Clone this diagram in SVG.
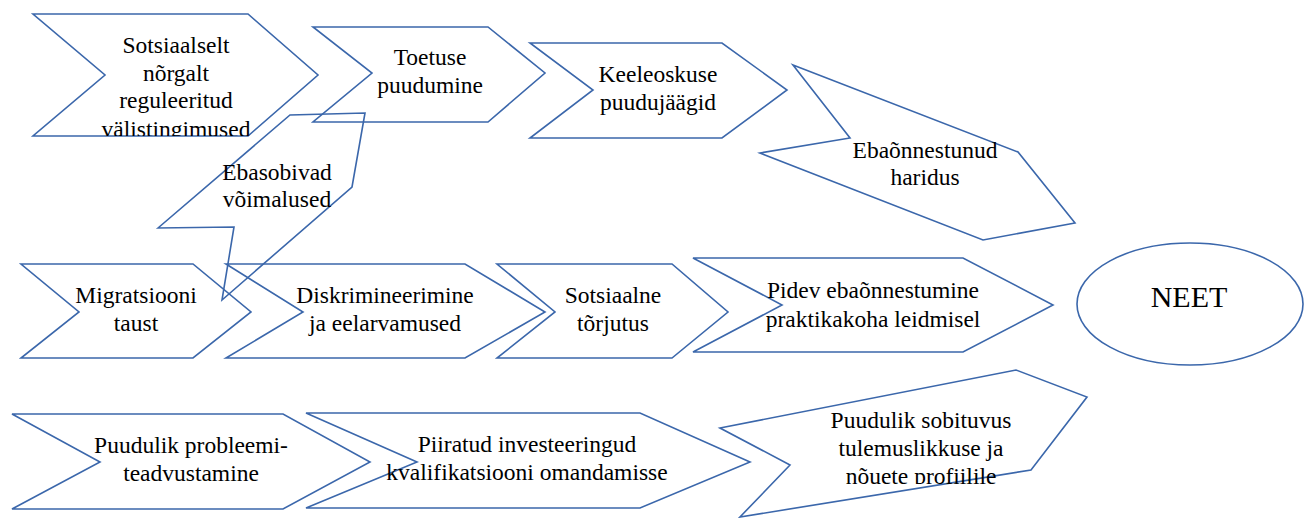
<svg xmlns="http://www.w3.org/2000/svg" width="1312" height="518" viewBox="0 0 1312 518">
<style>
.s{fill:none;stroke:#3b67ab;stroke-width:1.6;stroke-linejoin:miter}
.t{font-family:"Liberation Serif","Times New Roman",serif;font-size:23.5px;fill:#000;text-anchor:middle}
.big{font-size:30px}
</style>
<defs>
<clipPath id="c1"><rect x="0" y="0" width="320" height="136"/></clipPath>
<clipPath id="c13"><rect x="700" y="380" width="400" height="104"/></clipPath>
</defs>
<rect width="1312" height="518" fill="#fff"/>
<g id="connectors"></g>
<g id="n1">
<polygon class="s" points="33,14 248,14 318,75 248,136 33,136 105,75"/>
<g clip-path="url(#c1)">
<text class="t" x="176" y="53">Sotsiaalselt</text>
<text class="t" x="176" y="81">nõrgalt</text>
<text class="t" x="176" y="108">reguleeritud</text>
<text class="t" x="176" y="137">välistingimused</text>
</g>
</g>
<g id="n2">
<polygon class="s" points="313,27 488,27 545,73 488,122 313,122 372,73"/>
<text class="t" x="430" y="65">Toetuse</text>
<text class="t" x="430" y="93">puudumine</text>
</g>
<g id="n3">
<polygon class="s" points="530,43 722,43 787,90 722,138 530,138 593,90"/>
<text class="t" x="658" y="82">Keeleoskuse</text>
<text class="t" x="658" y="110">puudujäägid</text>
</g>
<g id="n4">
<polygon class="s" points="793,65 1018,152 1075,223 983,240 760,153 850,138"/>
<text class="t" x="925" y="158">Ebaõnnestunud</text>
<text class="t" x="925" y="185">haridus</text>
</g>
<g id="n5">
<polygon class="s" points="158,228 290,115 365,113 352,187 222,300 234,227"/>
<text class="t" x="277" y="180">Ebasobivad</text>
<text class="t" x="277" y="207">võimalused</text>
</g>
<g id="n6">
<polygon class="s" points="21,264 193,264 251,312 193,358 21,358 79,312"/>
<text class="t" x="136" y="303">Migratsiooni</text>
<text class="t" x="136" y="331">taust</text>
</g>
<g id="n7">
<polygon class="s" points="226,264 465,264 545,312 465,358 226,358 303,312"/>
<text class="t" x="385" y="303">Diskrimineerimine</text>
<text class="t" x="385" y="331">ja eelarvamused</text>
</g>
<g id="n8">
<polygon class="s" points="497,264 672,264 728,312 672,358 497,358 555,312"/>
<text class="t" x="613" y="303">Sotsiaalne</text>
<text class="t" x="613" y="331">tõrjutus</text>
</g>
<g id="n9">
<polygon class="s" points="693,258 963,258 1053,305 963,352 693,352 782,305"/>
<text class="t" x="873" y="298">Pidev ebaõnnestumine</text>
<text class="t" x="873" y="327">praktikakoha leidmisel</text>
</g>
<g id="n10">
<ellipse class="s" cx="1190" cy="304" rx="113" ry="61"/>
<text class="t big" x="1189" y="307">NEET</text>
</g>
<g id="n11">
<polygon class="s" points="12,414 283,414 370,462 283,509 12,509 100,462"/>
<text class="t" x="191" y="453">Puudulik probleemi-</text>
<text class="t" x="191" y="481">teadvustamine</text>
</g>
<g id="n12">
<polygon class="s" points="306,413 640,413 750,462 640,508 306,508 417,462"/>
<text class="t" x="527" y="452">Piiratud investeeringud</text>
<text class="t" x="527" y="480">kvalifikatsiooni omandamisse</text>
</g>
<g id="n13">
<polygon class="s" points="720,428 1016,370 1087,397 1031,470 740,517 790,465"/>
<g clip-path="url(#c13)">
<text class="t" x="921" y="428">Puudulik sobituvus</text>
<text class="t" x="921" y="456">tulemuslikkuse ja</text>
<text class="t" x="921" y="484">nõuete profiilile</text>
</g>
</g>
</svg>
